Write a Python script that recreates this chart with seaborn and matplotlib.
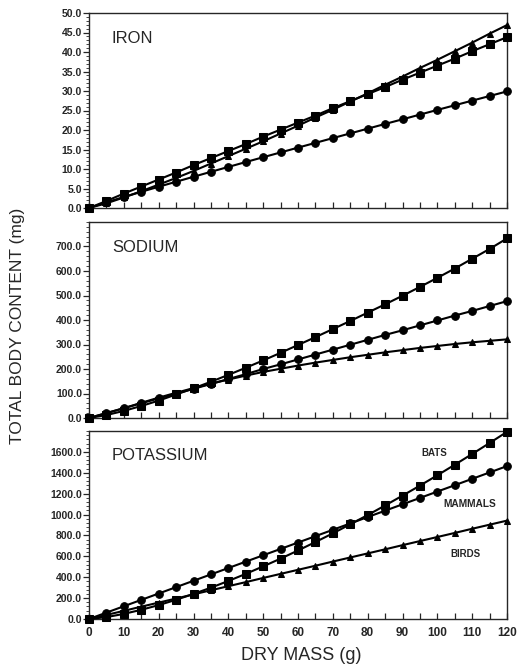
import numpy as np
import pandas as pd
import matplotlib
matplotlib.use("Agg")
import matplotlib.pyplot as plt
import seaborn as sns
from matplotlib.ticker import MultipleLocator, AutoMinorLocator, FormatStrFormatter

# ---------------- data ----------------
dry_mass = [0, 5, 10, 15, 20, 25, 30, 35, 40, 45, 50, 55, 60, 65, 70, 75,
            80, 85, 90, 95, 100, 105, 110, 115, 120]

iron_bats = [0, 1.8, 3.7, 5.5, 7.3, 9.1, 11.0, 12.8, 14.6, 16.4, 18.3, 20.1, 21.9,
             23.7, 25.6, 27.4, 29.2, 31.0, 32.9, 34.7, 36.5, 38.3, 40.2, 42.0, 43.8]
iron_mammals = [0, 1.46, 2.82, 4.15, 5.45, 6.73, 8.01, 9.28, 10.53, 11.78, 13.02, 14.25,
                15.48, 16.70, 17.92, 19.13, 20.34, 21.55, 22.74, 23.95, 25.15, 26.34,
                27.53, 28.71, 29.9]
iron_birds = [0, 1.2, 2.7, 4.3, 6.0, 7.7, 9.5, 11.4, 13.3, 15.2, 17.1, 19.1, 21.1,
              23.2, 25.2, 27.3, 29.4, 31.6, 33.7, 35.9, 38.0, 40.2, 42.4, 44.7, 46.9]

sodium_bats = [0, 12, 29, 49, 71, 96, 121, 148, 176, 205, 235, 266, 298, 330, 363,
               396, 430, 464, 499, 535, 572, 610, 650, 690, 733]
sodium_mammals = [0, 20, 40, 60, 80, 99, 119, 139, 159, 179, 200, 219, 239, 259, 279,
                  299, 319, 339, 358, 378, 398, 418, 437, 457, 477]
sodium_birds = [0, 20, 40, 62, 83, 103, 122, 140, 157, 173, 188, 201, 214, 226, 237,
                248, 258, 268, 277, 286, 294, 302, 309, 315, 321]

potassium_bats = [0, 18, 49, 88, 133, 184, 240, 300, 364, 432, 504, 578, 656, 737,
                  820, 907, 995, 1087, 1181, 1277, 1376, 1477, 1580, 1685, 1792]
potassium_mammals = [0, 61, 122, 183, 244, 305, 366, 427, 488, 549, 610, 671, 732,
                     793, 854, 915, 976, 1037, 1098, 1159, 1220, 1281, 1342, 1403, 1464]
potassium_birds = [0, 39, 78, 118, 157, 196, 236, 275, 314, 353, 393, 432, 471, 510,
                   550, 589, 628, 667, 707, 746, 785, 824, 864, 903, 942]

panel_titles = ["IRON", "SODIUM", "POTASSIUM"]
group_names = ["BATS", "MAMMALS", "BIRDS"]

# ---------------- style ----------------
sns.set_style("ticks")
plt.rcParams["font.family"] = ["Liberation Sans", "DejaVu Sans"]

fig = plt.figure(figsize=(5.2, 6.66), dpi=100)

left, width = 89 / 520, (507 - 89) / 520
boxes = [
    (1 - 208 / 666, (208 - 13) / 666),
    (1 - 418 / 666, (418 - 222) / 666),
    (1 - 619 / 666, (619 - 431) / 666),
]
ylims = [(0, 50), (0, 800), (0, 1800)]
ymajor = [5.0, 100.0, 200.0]
ymax_tick = [50.0, 700.0, 1600.0]

series = [
    (iron_bats, iron_mammals, iron_birds),
    (sodium_bats, sodium_mammals, sodium_birds),
    (potassium_bats, potassium_mammals, potassium_birds),
]
markers = {"BATS": "s", "MAMMALS": "o", "BIRDS": "^"}
msizes = {"BATS": 5.5, "MAMMALS": 5.5, "BIRDS": 4.8}

axes = []
for i, (bottom, height) in enumerate(boxes):
    ax = fig.add_axes([left, bottom, width, height])
    axes.append(ax)
    for name, vals in zip(group_names, series[i]):
        df = pd.DataFrame({"mass": dry_mass, "value": vals, "group": name})
        sns.lineplot(data=df, x="mass", y="value", ax=ax, color="black",
                     marker=markers[name], markersize=msizes[name],
                     markeredgecolor="black", markerfacecolor="black",
                     linewidth=1.5, legend=False, clip_on=False, zorder=3)
    ax.set_xlim(0, 120)
    ax.set_ylim(*ylims[i])
    ax.xaxis.set_major_locator(MultipleLocator(10))
    ax.xaxis.set_minor_locator(MultipleLocator(5))
    ax.set_yticks(np.arange(0, ymax_tick[i] + 1e-6, ymajor[i]))
    ax.yaxis.set_minor_locator(AutoMinorLocator(5))
    ax.yaxis.set_major_formatter(FormatStrFormatter("%.1f"))
    ax.tick_params(axis="x", which="both", direction="in", length=4, width=0.9,
                   labelsize=8.5, pad=6)
    ax.tick_params(axis="y", which="major", direction="out", length=4, width=0.9,
                   labelsize=7.5, pad=1)
    ax.tick_params(axis="y", which="minor", direction="out", length=2, width=0.6)
    for lab in ax.get_yticklabels() + ax.get_xticklabels():
        lab.set_fontweight("bold")
    for sp in ax.spines.values():
        sp.set_visible(True)
        sp.set_linewidth(1.0)
    ax.set_xlabel("")
    ax.set_ylabel("")
    if i < 2:
        ax.tick_params(axis="x", labelbottom=False)
    ax.text(0.055, 0.87, panel_titles[i], transform=ax.transAxes,
            fontsize=12, ha="left", va="center")

# group labels in potassium panel
axk = axes[2]
axk.text(99, 1590, "BATS", fontsize=7, fontweight="bold", ha="center", va="center")
axk.text(109.4, 1100, "MAMMALS", fontsize=7.3, fontweight="bold", ha="center", va="center")
axk.text(108, 622, "BIRDS", fontsize=7, fontweight="bold", ha="center", va="center")

fig.text(18 / 520, 1 - 326 / 666, "TOTAL BODY CONTENT (mg)", rotation=90,
         ha="center", va="center", fontsize=12.5)
fig.text(301 / 520, 1 - 656 / 666, "DRY MASS (g)", ha="center", va="center",
         fontsize=13)

fig.savefig("out.png", dpi=100)
